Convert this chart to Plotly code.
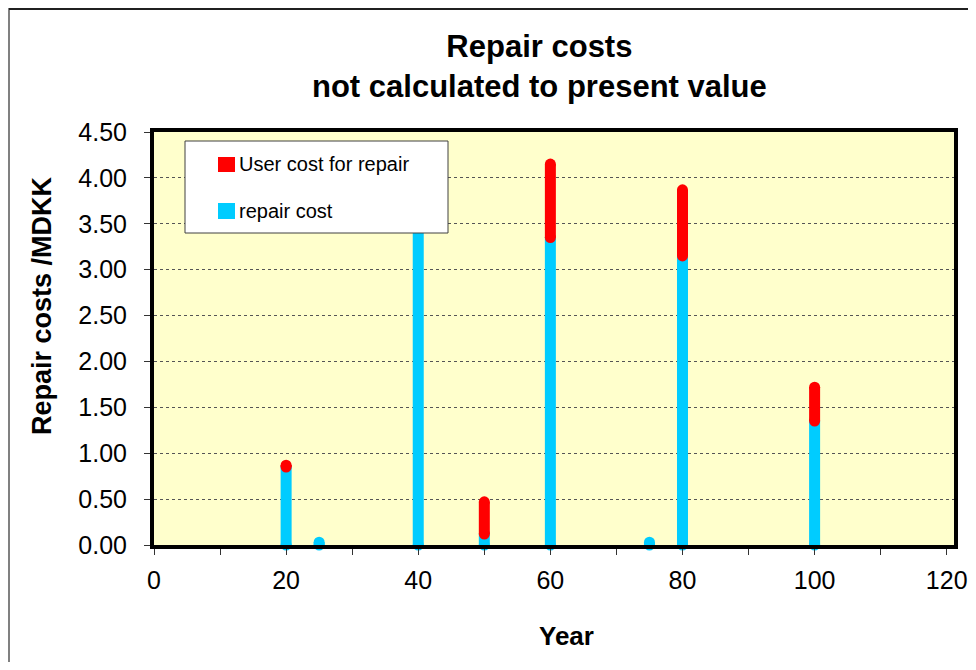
import plotly.graph_objects as go

# repair cost events over the 120 year period (MDKK, not discounted)
years = [20, 25, 40, 50, 60, 75, 80, 100]
repair_cost = [0.85, 0.03, 3.60, 0.12, 3.35, 0.03, 3.15, 1.35]
user_cost = [0.02, 0.0, 0.50, 0.35, 0.80, 0.0, 0.72, 0.37]

x_ticks = [0, 20, 40, 60, 80, 100, 120]

CYAN = "#00CCFF"
RED = "#FF0000"
FONT = "Liberation Sans, Arial, sans-serif"

# the page body has an 8px margin; keep the figure inside the visible window
OFF = 8
W, H = 976 - 2 * OFF, 670 - 2 * OFF
# plot area in page pixels
L, R, T, B = 154, 954, 132, 545


def px(x):
    return (x - L) / (R - L)


def py(y):
    return (B - y) / (B - T)


# stacked "sticks": cyan from 0 to repair, red from repair to repair + user
cx, cy, rx, ry = [], [], [], []
for yr, rc, uc in zip(years, repair_cost, user_cost):
    cx += [yr, yr, None]
    cy += [0, rc, None]
    if uc > 0:
        rx += [yr, yr, None]
        ry += [rc, rc + uc, None]

repair_trace = go.Scatter(
    name="repair cost", x=cx, y=cy, mode="lines+markers",
    line=dict(color=CYAN, width=11),
    marker=dict(color=CYAN, size=11, line=dict(width=0)),
    cliponaxis=False, hoverinfo="skip")

user_trace = go.Scatter(
    name="User cost for repair", x=rx, y=ry, mode="lines+markers",
    line=dict(color=RED, width=11),
    marker=dict(color=RED, size=11, line=dict(width=0)),
    cliponaxis=False, hoverinfo="skip")

fig = go.Figure(data=[repair_trace, user_trace])

shapes = [
    # outer chart frame
    dict(type="rect", xref="paper", yref="paper",
         x0=px(9), x1=px(990), y0=py(9), y1=py(690),
         line=dict(color="#808080", width=2), layer="below"),
    dict(type="line", xref="paper", yref="paper",
         x0=px(9), x1=px(990), y0=py(9), y1=py(9),
         line=dict(color="#202020", width=2)),
    # legend box
    dict(type="rect", xref="paper", yref="paper",
         x0=px(185), x1=px(448), y0=py(233), y1=py(141),
         fillcolor="white", line=dict(color="#404040", width=1), layer="above"),
    dict(type="rect", xref="paper", yref="paper",
         x0=px(218), x1=px(235), y0=py(172), y1=py(157),
         fillcolor=RED, line=dict(width=0), layer="above"),
    dict(type="rect", xref="paper", yref="paper",
         x0=px(218), x1=px(235), y0=py(219), y1=py(203),
         fillcolor=CYAN, line=dict(width=0), layer="above"),
]

annotations = [
    dict(text="<b>Repair costs<br>not calculated to present value</b>",
         xref="paper", yref="paper", x=px(539), y=py(67),
         xanchor="center", yanchor="middle", showarrow=False,
         font=dict(family=FONT, size=31, color="black")),
    dict(text="<b>Year</b>", xref="paper", yref="paper", x=px(566), y=py(636),
         xanchor="center", yanchor="middle", showarrow=False,
         font=dict(family=FONT, size=26, color="black")),
    dict(text="<b>Repair costs /MDKK</b>", xref="paper", yref="paper",
         x=px(42), y=py(305), textangle=-90,
         xanchor="center", yanchor="middle", showarrow=False,
         font=dict(family=FONT, size=27, color="black")),
    dict(text="User cost for repair", xref="paper", yref="paper",
         x=px(237), y=py(164), xanchor="left", yanchor="middle", showarrow=False,
         font=dict(family=FONT, size=20, color="black")),
    dict(text="repair cost", xref="paper", yref="paper",
         x=px(237), y=py(211), xanchor="left", yanchor="middle", showarrow=False,
         font=dict(family=FONT, size=20, color="black")),
]

fig.update_layout(
    width=W, height=H,
    margin=dict(l=L - OFF, r=W - (R - OFF), t=T - OFF, b=H - (B - OFF)),
    paper_bgcolor="white", plot_bgcolor="#FFFFCC",
    showlegend=False,
    font=dict(family=FONT, size=25, color="black"),
    shapes=shapes, annotations=annotations,
)

fig.update_xaxes(
    range=[0, 121.1], tickvals=x_ticks, ticktext=[str(v) for v in x_ticks],
    ticks="outside", ticklen=6, tickcolor="#333", tickwidth=1,
    minor=dict(dtick=10, ticks="outside", ticklen=6, tickcolor="#333"),
    showgrid=False, zeroline=False, automargin=False,
    showline=True, linecolor="black", linewidth=4, mirror=True,
    ticklabelstandoff=4,
)

fig.update_yaxes(
    range=[0, 4.5], dtick=0.5, tickformat=".2f",
    ticks="outside", ticklen=6, tickcolor="#333", tickwidth=1,
    showgrid=True, gridcolor="#555555", gridwidth=1, griddash="dot",
    zeroline=False, automargin=False,
    showline=True, linecolor="black", linewidth=4, mirror=True,
    ticklabelstandoff=12,
)

fig.write_html("out.html")
